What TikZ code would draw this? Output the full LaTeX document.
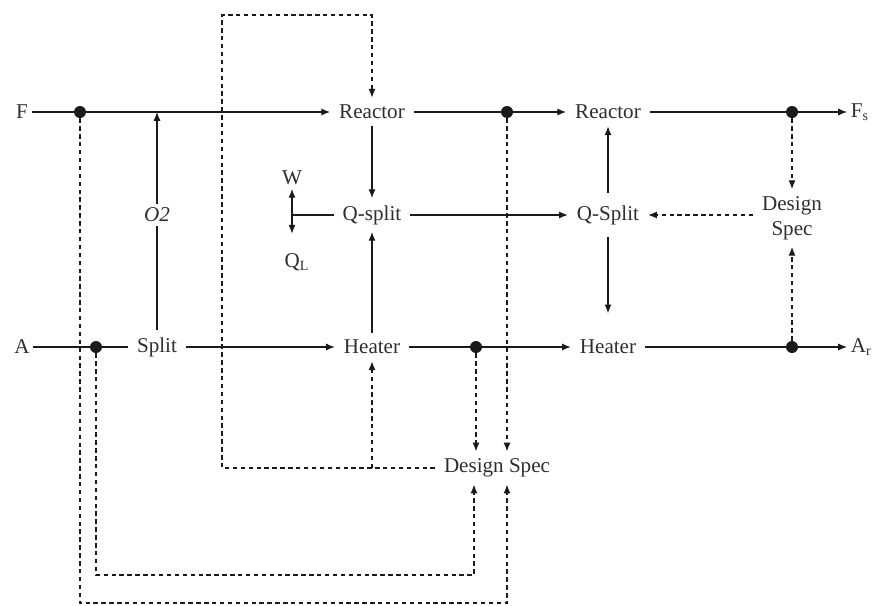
\documentclass[tikz,border=0pt]{standalone}
\usepackage{fontspec}
\setmainfont{Liberation Serif}
\usepackage{xcolor}
\usepackage{tikz}
\usetikzlibrary{arrows.meta}
\definecolor{cInk}{HTML}{2E2E2E}
\definecolor{cLine}{HTML}{1A1A1A}
\tikzset{
  blk/.style={font=\fontsize{12}{14}\selectfont,text=cInk,inner xsep=5pt,inner ysep=4pt,align=center},
  stream/.style={blk,inner sep=2pt},
  jdot/.style={circle,fill=cLine,inner sep=0pt,minimum size=0.24cm},
  flowline/.style={line width=0.6pt,color=cLine},
  arr/.style={flowline,-{Latex[length=5pt,width=4pt]}},
  ctrl/.style={flowline,dash pattern=on 2.5pt off 2pt},
  darr/.style={ctrl,-{Latex[length=5pt,width=4pt]}},
}

\begin{document}
\begin{tikzpicture}[x=0.02cm,y=-0.02cm]
    \useasboundingbox (0,0) rectangle (888,605);
    % F row
    \node[stream] (F) at (22,112) {F};
    \node[jdot] (fdot) at (80,112) {};
    \node[blk] (reac1) at (372,112) {Reactor};
    \node[jdot] (rdot) at (507,112) {};
    \node[blk] (reac2) at (608,112) {Reactor};
    \node[jdot] (sdot) at (792,112) {};
    \node[stream,anchor=west] (Fs) at (847,112) {F\textsubscript{s}};
    % A row
    \node[stream] (A) at (22,347) {A};
    \node[jdot] (adot) at (96,347) {};
    \node[blk] (split) at (157,347) {Split};
    \node[blk] (heat1) at (372,347) {Heater};
    \node[jdot] (hdot) at (476,347) {};
    \node[blk] (heat2) at (608,347) {Heater};
    \node[jdot] (adot2) at (792,347) {};
    \node[stream,anchor=west] (Ar) at (847,347) {A\textsubscript{r}};
    % middle
    \node[stream,font=\fontsize{12}{14}\selectfont\itshape] (o2) at (157,215) {O2};
    \node[blk] (qsp1) at (372,215) {Q-split};
    \node[blk] (qsp2) at (608,215) {Q-Split};
    \node[blk] (ds1) at (792,218) {Design\\Spec};
    \node[stream] (W) at (292,178) {W};
    \node[stream] (QL) at (297,262) {Q\textsubscript{L}};
    \coordinate (wjn) at (292,215);
    \node[blk] (ds2) at (497,468) {Design Spec};
    \coordinate (lpjn) at (372,468);
    \coordinate (lpbl) at (222,468);
    \coordinate (lptl) at (222,15);
    \coordinate (lptr) at (372,15);
    \coordinate (b1) at (474,575);
    \coordinate (b2) at (507,603);

    \draw[arr] (F) -- (fdot) -- (reac1);
    \draw[arr] (reac1) -- (rdot) -- (reac2);
    \draw[arr] (reac2) -- (sdot) -- (Fs);
    \draw[flowline] (A) -- (adot) -- (split);
    \draw[arr] (split) -- (heat1);
    \draw[arr] (heat1) -- (hdot) -- (heat2);
    \draw[arr] (heat2) -- (adot2) -- (Ar);
    \draw[flowline] (split) -- (o2);
    \draw[arr] (o2) -- (o2 |- F);
    \draw[arr] (reac1) -- (qsp1);
    \draw[arr] (heat1) -- (qsp1);
    \draw[flowline] (qsp1) -- (wjn);
    \draw[arr] (wjn) -- (W);
    \draw[arr,shorten >=9pt] (wjn) -- (wjn |- QL.north);
    \draw[arr] (qsp1) -- (qsp2);
    \draw[arr,shorten <=3pt] (qsp2) -- (reac2);
    \draw[arr,shorten <=3pt,shorten >=11pt] (qsp2) -- (heat2);
    % design spec loops
    \draw[darr] (ds1.west |- qsp2) -- (qsp2);
    \draw[darr] (sdot) -- (ds1);
    \draw[darr] (adot2) -- (ds1);
    \draw[darr] (hdot) -- (hdot |- ds2.north);
    \draw[darr] (rdot) -- (rdot |- ds2.north);
    \draw[darr] (ds2) -- (lpbl) -- (lptl) -- (lptr) -- (reac1);
    \draw[darr] (lpjn) -- (heat1);
    \draw[darr] (adot) |- (b1) -- (b1 |- ds2.south);
    \draw[darr] (fdot) |- (b2) -- (b2 |- ds2.south);
\end{tikzpicture}
\end{document}
